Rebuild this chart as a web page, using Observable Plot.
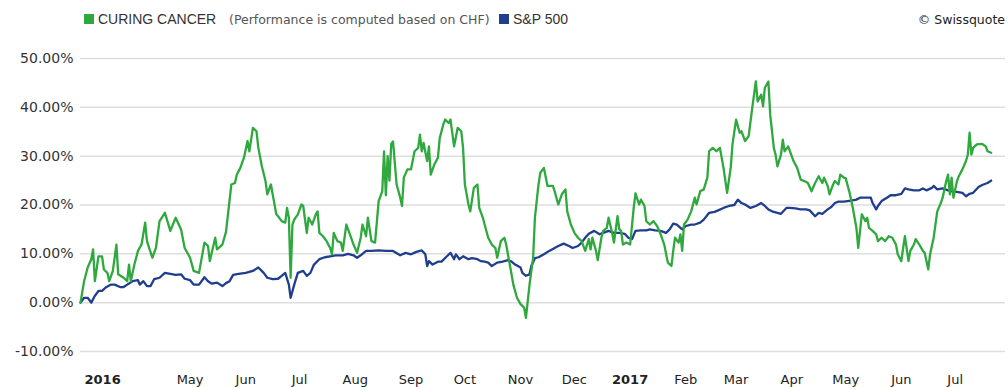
<!DOCTYPE html>
<html><head><meta charset="utf-8">
<script src="https://cdn.jsdelivr.net/npm/d3@7"></script>
<script src="https://cdn.jsdelivr.net/npm/@observablehq/plot@0.6"></script>
<style>
body{margin:0;background:#fff;font-family:"DejaVu Sans",sans-serif;}
#legend{position:relative;width:1008px;height:40px;}
.sw{position:absolute;width:10px;height:10px;top:14px;}
.lt{position:absolute;top:11px;line-height:16px;font-size:14px;color:#333;white-space:nowrap;font-family:"Liberation Sans",Arial,sans-serif;}
</style></head><body>
<div id="legend"></div>
<div id="chart"></div>
<script>
// ---- data ----
const seriesNames = ["CURING CANCER", "S&P 500"];
const seriesColors = ["#2fa83e", "#203e8e"];
const seriesNote = "(Performance is computed based on CHF)";
const credit = "© Swissquote";

const curingCancer = [
["2016-03-01",0],["2016-03-03",4.4],["2016-03-05",7.2],["2016-03-07",8.9],["2016-03-08",10.9],["2016-03-09",4.4],["2016-03-11",9.5],["2016-03-13",9.5],["2016-03-14",6.8],["2016-03-16",6.1],["2016-03-17",4.4],["2016-03-19",6.5],["2016-03-21",11.9],["2016-03-22",5.8],["2016-03-25",5.1],["2016-03-27",4.4],["2016-03-28",7.8],["2016-03-29",4.4],["2016-03-31",7.8],
["2016-04-02",10.6],["2016-04-04",11.9],["2016-04-06",16.4],["2016-04-07",12.6],["2016-04-10",9.2],["2016-04-12",11.2],["2016-04-14",16.7],["2016-04-17",18.4],["2016-04-20",14.7],["2016-04-23",17.4],["2016-04-26",15.0],["2016-04-28",11.2],
["2016-05-01",9.2],["2016-05-03",6.5],["2016-05-06",6.1],["2016-05-09",12.3],["2016-05-11",11.6],["2016-05-12",8.5],["2016-05-15",13.3],["2016-05-16",10.9],["2016-05-19",11.9],["2016-05-21",14.5],["2016-05-24",24.2],["2016-05-26",24.5],["2016-05-27",26.2],["2016-05-29",27.6],["2016-05-31",29.7],
["2016-06-02",33.1],["2016-06-03",31.0],["2016-06-05",35.8],["2016-06-07",35.1],["2016-06-08",31.7],["2016-06-10",27.9],["2016-06-12",24.9],["2016-06-13",22.2],["2016-06-15",24.2],["2016-06-16",22.2],["2016-06-18",18.1],["2016-06-19",17.7],["2016-06-21",16.7],["2016-06-23",16.4],["2016-06-24",19.4],["2016-06-25",17.4],["2016-06-26",5.1],["2016-06-27",16.0],["2016-06-28",17.0],["2016-06-30",18.1],
["2016-07-02",20.1],["2016-07-03",19.8],["2016-07-05",14.3],["2016-07-06",17.4],["2016-07-08",16.0],["2016-07-10",18.1],["2016-07-11",18.7],["2016-07-12",14.3],["2016-07-14",13.6],["2016-07-16",12.6],["2016-07-18",11.2],["2016-07-19",9.9],["2016-07-20",14.3],["2016-07-22",12.6],["2016-07-24",12.3],["2016-07-25",10.6],["2016-07-27",16.0],["2016-07-29",14.0],["2016-07-31",11.9],
["2016-08-02",10.2],["2016-08-04",13.3],["2016-08-05",16.0],["2016-08-07",13.6],["2016-08-08",17.4],["2016-08-10",12.6],["2016-08-12",12.3],["2016-08-14",20.8],["2016-08-16",22.8],["2016-08-17",31.0],["2016-08-18",22.0],["2016-08-19",30.0],["2016-08-20",25.0],["2016-08-21",32.5],["2016-08-22",33.0],["2016-08-24",24.2],["2016-08-26",21.5],["2016-08-27",19.8],["2016-08-28",25.6],["2016-08-30",27.3],
["2016-09-01",27.3],["2016-09-03",31.0],["2016-09-05",31.7],["2016-09-06",34.4],["2016-09-07",31.0],["2016-09-08",32.7],["2016-09-10",29.0],["2016-09-11",32.0],["2016-09-12",26.2],["2016-09-14",28.3],["2016-09-16",29.7],["2016-09-17",33.7],["2016-09-19",36.5],["2016-09-20",37.5],["2016-09-22",36.8],["2016-09-23",37.5],["2016-09-25",32.0],["2016-09-27",35.8],["2016-09-29",35.1],["2016-09-30",31.7],
["2016-10-01",24.2],["2016-10-03",20.1],["2016-10-04",18.7],["2016-10-06",23.5],["2016-10-08",24.2],["2016-10-09",19.4],["2016-10-11",17.4],["2016-10-12",16.0],["2016-10-14",13.3],["2016-10-16",11.9],["2016-10-18",11.2],["2016-10-19",9.2],["2016-10-21",12.6],["2016-10-23",13.3],["2016-10-24",11.9],["2016-10-26",7.8],["2016-10-28",3.7],["2016-10-30",1.0],
["2016-11-01",-0.3],["2016-11-03",-1.0],["2016-11-04",-3.1],["2016-11-06",3.7],["2016-11-08",9.2],["2016-11-09",17.4],["2016-11-11",24.2],["2016-11-12",26.6],["2016-11-14",27.6],["2016-11-16",23.9],["2016-11-19",23.9],["2016-11-20",22.8],["2016-11-22",20.1],["2016-11-24",22.2],["2016-11-26",23.2],["2016-11-27",18.7],["2016-11-29",16.0],
["2016-12-01",14.3],["2016-12-03",13.3],["2016-12-05",12.6],["2016-12-07",10.6],["2016-12-09",13.0],["2016-12-10",10.9],["2016-12-11",13.3],["2016-12-13",10.6],["2016-12-14",8.7],["2016-12-16",13.3],["2016-12-17",14.7],["2016-12-19",15.3],["2016-12-20",17.4],["2016-12-22",14.3],["2016-12-23",12.3],["2016-12-25",17.7],["2016-12-26",15.0],["2016-12-27",14.7],["2016-12-28",11.9],["2016-12-30",12.3],
["2017-01-01",11.9],["2017-01-03",19.4],["2017-01-04",22.4],["2017-01-06",20.1],["2017-01-07",21.1],["2017-01-09",19.8],["2017-01-10",16.7],["2017-01-12",16.0],["2017-01-14",16.7],["2017-01-16",15.7],["2017-01-18",14.0],["2017-01-20",11.9],["2017-01-22",8.2],["2017-01-24",7.5],["2017-01-25",10.6],["2017-01-26",13.3],["2017-01-28",12.3],["2017-01-29",14.0],["2017-01-30",10.6],["2017-01-31",16.0],
["2017-02-02",17.0],["2017-02-04",18.7],["2017-02-06",21.5],["2017-02-07",20.1],["2017-02-09",22.8],["2017-02-11",23.2],["2017-02-13",25.6],["2017-02-14",31.0],["2017-02-16",31.7],["2017-02-18",31.0],["2017-02-20",31.7],["2017-02-22",27.6],["2017-02-24",22.5],["2017-02-26",27.6],["2017-02-27",32.4],
["2017-03-01",37.5],["2017-03-03",34.8],["2017-03-04",35.1],["2017-03-06",33.1],["2017-03-08",34.1],["2017-03-10",39.9],["2017-03-12",45.3],["2017-03-13",41.2],["2017-03-15",42.6],["2017-03-16",40.2],["2017-03-17",44.0],["2017-03-19",45.3],["2017-03-20",38.5],["2017-03-22",31.7],["2017-03-23",30.3],["2017-03-24",27.9],["2017-03-26",30.3],["2017-03-27",33.4],["2017-03-28",31.0],["2017-03-30",32.0],["2017-03-31",31.0],
["2017-04-02",29.0],["2017-04-04",27.6],["2017-04-06",25.2],["2017-04-08",24.9],["2017-04-10",24.5],["2017-04-12",22.8],["2017-04-14",24.5],["2017-04-16",25.9],["2017-04-18",24.5],["2017-04-19",25.6],["2017-04-21",23.9],["2017-04-22",22.2],["2017-04-24",24.2],["2017-04-25",24.9],["2017-04-27",24.2],["2017-04-28",26.2],["2017-04-30",25.6],
["2017-05-01",25.5],["2017-05-03",22.8],["2017-05-05",19.4],["2017-05-07",15.3],["2017-05-08",11.2],["2017-05-10",18.1],["2017-05-12",16.7],["2017-05-13",17.4],["2017-05-14",15.3],["2017-05-16",14.7],["2017-05-18",14.0],["2017-05-19",12.6],["2017-05-21",13.3],["2017-05-23",12.6],["2017-05-25",13.6],["2017-05-27",13.3],["2017-05-29",11.9],["2017-05-30",9.9],
["2017-06-01",8.5],["2017-06-02",11.2],["2017-06-03",13.6],["2017-06-05",8.5],["2017-06-06",10.6],["2017-06-08",11.9],["2017-06-09",13.0],["2017-06-11",11.9],["2017-06-13",10.6],["2017-06-14",10.2],["2017-06-16",6.8],["2017-06-17",9.9],["2017-06-19",13.3],["2017-06-21",18.7],["2017-06-23",20.4],["2017-06-24",21.5],["2017-06-26",24.9],["2017-06-27",26.2],["2017-06-28",22.2],["2017-06-29",25.6],["2017-06-30",21.5],
["2017-07-01",23.2],["2017-07-02",24.9],["2017-07-03",25.9],["2017-07-05",27.3],["2017-07-07",29.0],["2017-07-08",30.3],["2017-07-09",34.8],["2017-07-10",30.3],["2017-07-11",31.7],["2017-07-13",32.4],["2017-07-16",32.5],["2017-07-18",32.0],["2017-07-19",31.0],["2017-07-21",30.7]
];

const sp500 = [
["2016-03-01",0],["2016-03-03",1.0],["2016-03-05",1.0],["2016-03-07",0],["2016-03-09",1.4],["2016-03-11",2.4],["2016-03-13",2.4],["2016-03-15",3.1],["2016-03-18",3.7],["2016-03-20",3.7],["2016-03-23",3.2],["2016-03-25",3.2],["2016-03-27",3.7],["2016-03-30",4.4],
["2016-04-02",4.6],["2016-04-03",3.7],["2016-04-05",4.4],["2016-04-07",3.4],["2016-04-09",3.4],["2016-04-11",4.8],["2016-04-14",5.1],["2016-04-17",6.1],["2016-04-20",5.9],["2016-04-23",5.7],["2016-04-26",5.8],["2016-04-28",4.9],
["2016-05-01",4.6],["2016-05-03",3.7],["2016-05-06",3.7],["2016-05-09",5.2],["2016-05-11",4.4],["2016-05-13",3.9],["2016-05-16",4.1],["2016-05-19",3.4],["2016-05-21",4.0],["2016-05-23",4.4],["2016-05-25",5.7],["2016-05-28",5.9],
["2016-06-01",6.1],["2016-06-05",6.5],["2016-06-08",7.2],["2016-06-11",6.1],["2016-06-13",5.1],["2016-06-16",4.8],["2016-06-19",4.9],["2016-06-21",5.5],["2016-06-23",6.1],["2016-06-25",3.7],["2016-06-26",1.0],["2016-06-28",3.7],["2016-06-30",6.1],
["2016-07-03",6.5],["2016-07-05",5.5],["2016-07-07",6.1],["2016-07-09",7.8],["2016-07-12",8.9],["2016-07-15",9.3],["2016-07-18",9.5],["2016-07-21",9.7],["2016-07-25",9.7],["2016-07-28",10.0],["2016-07-31",9.7],
["2016-08-02",9.2],["2016-08-04",9.7],["2016-08-07",10.6],["2016-08-10",10.6],["2016-08-14",10.7],["2016-08-18",10.6],["2016-08-22",10.6],["2016-08-26",9.7],["2016-08-29",10.2],
["2016-09-01",9.9],["2016-09-04",10.4],["2016-09-07",10.7],["2016-09-09",9.9],["2016-09-10",7.5],["2016-09-11",8.5],["2016-09-13",7.8],["2016-09-16",8.4],["2016-09-18",8.4],["2016-09-21",9.5],["2016-09-23",10.2],["2016-09-25",8.9],["2016-09-26",9.9],["2016-09-28",8.9],["2016-09-30",9.5],
["2016-10-03",8.9],["2016-10-05",9.1],["2016-10-08",8.9],["2016-10-10",8.5],["2016-10-12",8.4],["2016-10-14",8.2],["2016-10-16",7.5],["2016-10-19",8.2],["2016-10-22",8.4],["2016-10-25",8.7],["2016-10-27",8.4],["2016-10-29",7.8],
["2016-11-01",7.2],["2016-11-02",6.1],["2016-11-04",5.5],["2016-11-06",5.8],["2016-11-07",7.5],["2016-11-09",9.1],["2016-11-11",9.3],["2016-11-14",9.9],["2016-11-17",10.6],["2016-11-20",11.2],["2016-11-22",11.6],["2016-11-25",12.1],["2016-11-28",11.6],["2016-11-30",11.2],
["2016-12-03",11.6],["2016-12-05",12.3],["2016-12-07",13.3],["2016-12-09",14.1],["2016-12-12",14.7],["2016-12-15",14.0],["2016-12-17",14.3],["2016-12-20",14.7],["2016-12-23",14.3],["2016-12-26",14.3],["2016-12-29",14.1],["2016-12-31",13.3],
["2017-01-02",13.0],["2017-01-04",14.7],["2017-01-07",14.8],["2017-01-10",14.8],["2017-01-12",15.0],["2017-01-15",14.8],["2017-01-18",14.7],["2017-01-21",14.3],["2017-01-23",15.0],["2017-01-25",16.2],["2017-01-27",16.0],["2017-01-30",15.0],
["2017-02-01",15.7],["2017-02-04",16.0],["2017-02-06",16.0],["2017-02-09",16.4],["2017-02-11",17.0],["2017-02-14",18.4],["2017-02-17",18.6],["2017-02-19",18.9],["2017-02-22",19.4],["2017-02-25",19.8],["2017-02-28",20.0],
["2017-03-02",21.1],["2017-03-04",20.4],["2017-03-06",20.1],["2017-03-09",19.4],["2017-03-12",19.8],["2017-03-15",20.4],["2017-03-17",19.8],["2017-03-19",19.1],["2017-03-21",18.7],["2017-03-24",18.4],["2017-03-26",18.2],["2017-03-29",19.4],["2017-03-31",19.4],
["2017-04-03",19.3],["2017-04-06",19.1],["2017-04-09",19.1],["2017-04-11",18.9],["2017-04-14",17.7],["2017-04-16",18.4],["2017-04-18",18.2],["2017-04-21",19.1],["2017-04-23",19.6],["2017-04-25",20.4],["2017-04-27",20.7],["2017-04-30",20.7],
["2017-05-02",20.8],["2017-05-04",20.9],["2017-05-07",21.1],["2017-05-09",21.5],["2017-05-12",21.5],["2017-05-15",21.5],["2017-05-16",20.4],["2017-05-18",19.1],["2017-05-19",19.8],["2017-05-21",20.8],["2017-05-24",21.5],["2017-05-26",22.0],["2017-05-29",22.0],
["2017-06-01",22.3],["2017-06-03",23.4],["2017-06-05",23.2],["2017-06-08",23.0],["2017-06-11",23.0],["2017-06-13",23.4],["2017-06-15",23.0],["2017-06-18",23.5],["2017-06-19",23.9],["2017-06-21",23.2],["2017-06-24",23.4],["2017-06-27",23.0],["2017-06-29",22.8],
["2017-07-02",22.7],["2017-07-05",22.5],["2017-07-07",21.8],["2017-07-09",22.3],["2017-07-11",22.5],["2017-07-14",23.7],["2017-07-16",24.1],["2017-07-19",24.5],["2017-07-21",25.0]
];

const xDomain = ["2016-03-01", "2017-07-29"];
const yTicks = [-10, 0, 10, 20, 30, 40, 50];
const monthTicks = ["2016-05-01","2016-06-01","2016-07-01","2016-08-01","2016-09-01","2016-10-01","2016-11-01","2016-12-01","2017-02-01","2017-03-01","2017-04-01","2017-05-01","2017-06-01","2017-07-01"];
const monthLabels = ["May","Jun","Jul","Aug","Sep","Oct","Nov","Dec","Feb","Mar","Apr","May","Jun","Jul"];
const yearTicks = ["2016-03-01","2017-01-01"];
const yearLabels = ["2016","2017"];

// ---- legend ----
const legend = document.getElementById("legend");
function add(cls, left, text, extra) {
  const el = document.createElement("div");
  el.className = cls; el.style.left = left + "px";
  if (text) el.textContent = text;
  Object.assign(el.style, extra || {});
  legend.appendChild(el);
  return el;
}
add("sw", 84, null, {background: seriesColors[0]});
add("lt", 98, seriesNames[0]);
add("lt", 229, seriesNote, {fontSize: "12.5px", color: "#555", top: "12px", fontFamily: "DejaVu Sans, sans-serif"});
add("sw", 499, null, {background: seriesColors[1]});
add("lt", 513, seriesNames[1]);
add("lt", 0, credit, {fontSize: "12.5px", left: "auto", right: "3px", top: "12px", fontFamily: "DejaVu Sans, sans-serif", color: "#222"});

// ---- chart ----
const parse = d3.utcParse("%Y-%m-%d");
const toRows = (arr, name) => arr.map(([d, v]) => ({date: parse(d), value: v, series: name}));
const rows = [...toRows(sp500, seriesNames[1]), ...toRows(curingCancer, seriesNames[0])];
const mDates = monthTicks.map(parse), yDates = yearTicks.map(parse);
const mMap = new Map(mDates.map((d, i) => [+d, monthLabels[i]]));
const yMap = new Map(yDates.map((d, i) => [+d, yearLabels[i]]));

const chart = Plot.plot({
  width: 1008, height: 347,
  marginLeft: 80, marginRight: 3, marginTop: 18, marginBottom: 36,
  style: {fontFamily: "DejaVu Sans, sans-serif", fontSize: "13px", color: "#333", background: "#fff", overflow: "visible"},
  x: {type: "utc", domain: xDomain.map(parse)},
  y: {domain: [-10, 50]},
  color: {domain: seriesNames, range: seriesColors},
  marks: [
    Plot.gridY(yTicks, {stroke: "#dedede", strokeOpacity: 1, strokeWidth: 1.5}),
    Plot.axisY(yTicks, {tickSize: 0, tickPadding: 7, tickFormat: d => d.toFixed(2) + "%", fontSize: 14, fill: "#333", label: null}),
    Plot.axisX(mDates, {tickSize: 0, tickPadding: 23, tickFormat: d => mMap.get(+d), fontSize: 13, fill: "#222", label: null}),
    Plot.axisX([yDates[1]], {tickSize: 0, tickPadding: 23, tickFormat: d => yMap.get(+d), fontSize: 13, fontWeight: "bold", fill: "#222", label: null}),
    Plot.axisX([yDates[0]], {tickSize: 0, tickPadding: 23, tickFormat: d => yMap.get(+d), fontSize: 13, fontWeight: "bold", fill: "#222", textAnchor: "start", dx: 4, label: null}),
    Plot.line(rows, {x: "date", y: "value", z: "series", stroke: "series", strokeWidth: 2.3, strokeLinejoin: "round"})
  ]
});
document.getElementById("chart").appendChild(chart);
</script>
</body></html>
